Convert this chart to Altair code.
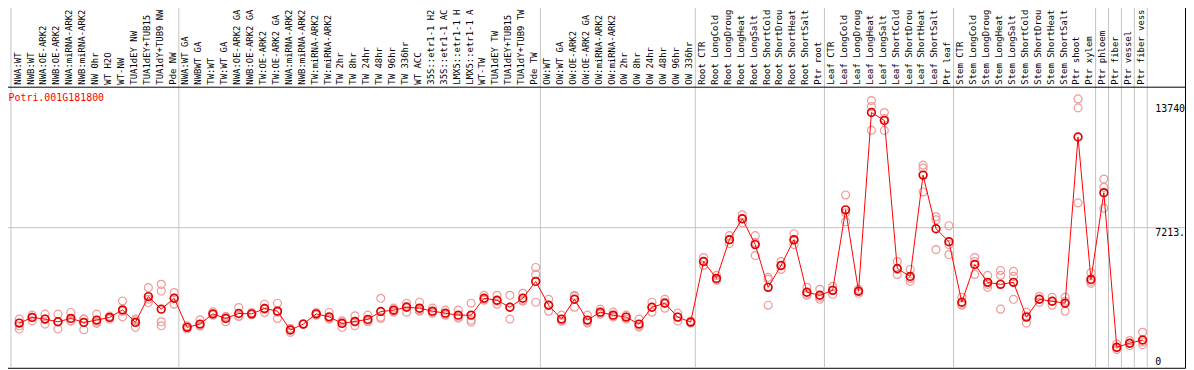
import altair as alt
import pandas as pd

gene = "Potri.001G181800"

categories = [
    "NWA:WT", "NWB:WT", "NWA:OE-ARK2", "NWB:OE-ARK2", "NWA:miRNA-ARK2", "NWB:miRNA-ARK2",
    "NW 0hr", "WT H2O", "WT-NW", "TUA1dEY NW", "TUA1dEY+TUB15", "TUA1dY+TUB9 NW", "Pde NW",
    "NWA:WT GA", "NWBWT GA", "TW:WT", "TW:WT GA", "NWA:OE-ARK2 GA", "NWB:OE-ARK2 GA",
    "TW:OE-ARK2", "TW:OE-ARK2 GA", "NWA:miRNA-ARK2", "NWB:miRNA-ARK2", "TW:miRNA-ARK2",
    "TW:miRNA-ARK2", "TW 2hr", "TW 8hr", "TW 24hr", "TW 48hr", "TW 96hr", "TW 336hr",
    "WT ACC", "35S::etr1-1 H2", "35S::etr1-1 AC", "LMX5::etr1-1 H", "LMX5::etr1-1 A",
    "WT-TW", "TUA1dEY TW", "TUA1dEY+TUB15", "TUA1dY+TUB9 TW", "Pde TW",
    "OW:WT", "OW:WT GA", "OW:OE-ARK2", "OW:OE-ARK2 GA", "OW:miRNA-ARK2", "OW:miRNA-ARK2",
    "OW 2hr", "OW 8hr", "OW 24hr", "OW 48hr", "OW 96hr", "OW 336hr",
    "Root CTR", "Root LongCold", "Root LongDroug", "Root LongHeat", "Root LongSalt",
    "Root ShortCold", "Root ShortDrou", "Root ShortHeat", "Root ShortSalt", "Ptr root",
    "Leaf CTR", "Leaf LongCold", "Leaf LongDroug", "Leaf LongHeat", "Leaf LongSalt",
    "Leaf ShortCold", "Leaf ShortDrou", "Leaf ShortHeat", "Leaf ShortSalt", "Ptr leaf",
    "Stem CTR", "Stem LongCold", "Stem LongDroug", "Stem LongHeat", "Stem LongSalt",
    "Stem ShortCold", "Stem ShortDrou", "Stem ShortHeat", "Stem ShortSalt", "Ptr shoot",
    "Ptr xylem", "Ptr phloem", "Ptr fiber", "Ptr vessel", "Ptr fiber vess",
]

means = [
    2194, 2492, 2403, 2262, 2440, 2231, 2351, 2492, 2889, 2231, 3589, 2926, 3500,
    1970, 2142, 2680, 2440, 2701, 2680, 2962, 2821, 1829, 2142, 2680, 2523, 2179,
    2283, 2388, 2805, 2873, 3030, 2978, 2821, 2717, 2612, 2612, 3500, 3396, 3030,
    3500, 4388,
    3135, 2403, 3448, 2351, 2769, 2612, 2508, 2142, 3030, 3239, 2508, 2246,
    5433, 4545, 6583, 7680, 6322, 4075, 5224, 6583, 3814, 3657,
    3918, 8150, 3866, 13270, 12852, 5068, 4650, 9979, 7157, 6478,
    3291, 5277, 4336, 4232, 4336, 2508, 3448, 3344, 3239, 11980,
    4493, 9054, 925, 1134, 1306,
]

replicates = [
    [2403, 2053, 1881], [2612, 2314, 2492], [2664, 2142, 2403], [2664, 1881, 2262],
    [2753, 2314, 2299], [2403, 1844, 2403], [2664, 2179, 2246], [2560, 2508, 2403],
    [3359, 2523, 2821], [1970, 2314, 2403], [4059, 3276, 3448], [4232, 3882, 2262, 2053],
    [3798, 3187, 3500],
    [2053, 1881, 1985], [2367, 2053, 2037], [2785, 2612, 2664], [2544, 2262, 2508],
    [3014, 2544, 2560], [2750, 2660, 2630], [3187, 2753, 2926], [3239, 2440, 2769],
    [1917, 1708, 1829], [2142, 2142, 2142], [2753, 2612, 2664], [2753, 2440, 2403],
    [2314, 1970, 2246], [2576, 2053, 2246], [2612, 2262, 2299], [3500, 2440, 2508],
    [2978, 2873, 2769], [3239, 2769, 3082], [3291, 2821, 2873], [2978, 2717, 2769],
    [2873, 2612, 2664], [2873, 2508, 2455], [3239, 2351, 2246], [3657, 3396, 3448],
    [3657, 3344, 3187], [3657, 2403, 3030], [3762, 3344, 3396], [5120, 4754, 3291],
    [3448, 2821, 3135], [2612, 2299, 2299], [3657, 3030, 3605], [2612, 2246, 2194],
    [2926, 2664, 2717], [2769, 2508, 2560], [2612, 2403, 2508], [2403, 1985, 2037],
    [3291, 2769, 3030], [3448, 2978, 3291], [2717, 2299, 2508], [2299, 2194, 2246],
    [5642, 5224, 5433], [4702, 4441, 4493], [6792, 6374, 6583], [7889, 7471, 7680],
    [6792, 5747, 6426], [4493, 3135, 4598], [5433, 5015, 5224], [6896, 6322, 6531],
    [4075, 3657, 3709], [3971, 3448, 3553],
    [4127, 3709, 3918], [8934, 7523, 7993], [3971, 3762, 3866], [13897, 13583, 12330],
    [13270, 12957, 12330], [5433, 4754, 5015], [5015, 4388, 4545], [10501, 10344, 9090],
    [7784, 6060, 7628], [7314, 5799, 6322],
    [3553, 3135, 3187], [5642, 5433, 4754], [4702, 4075, 4232], [4963, 4702, 2926],
    [4911, 4650, 3448], [2769, 2194, 2560], [3605, 3291, 3448], [3553, 3135, 3344],
    [3553, 2821, 3344], [13986, 13515, 8516],
    [4843, 4284, 4388], [9770, 9336, 8239], [1097, 799, 888], [1270, 1008, 1123],
    [1708, 1061, 1202],
]

# group separators: index of the category after which a vertical line is drawn
boundaries = [-1, 12, 40, 52, 62, 72, 83, 84, 85, 86, 87]
grid_values = [7213]
y_ticks = [7213, 13740]
y_tick_labels = ["7213.", "13740"]
y_zero = [0]
y_zero_labels = ["0"]

FONT = "DejaVu Sans Mono"
idx = list(range(len(categories)))
df_mean = pd.DataFrame({"idx": idx, "label": categories, "mean": means})
df_rep = pd.DataFrame(
    [{"idx": i, "value": v} for i, reps in enumerate(replicates) for v in reps]
)
df_bound = pd.DataFrame({"b": boundaries})
df_grid = pd.DataFrame({"v": grid_values})
df_yt = pd.DataFrame({"v": y_ticks, "t": y_tick_labels})
df_y0 = pd.DataFrame({"v": y_zero, "t": y_zero_labels})
df_one = pd.DataFrame({"t": [gene]})

xs = alt.Scale(domain=[-1.408, 90.285], nice=False, zero=False)
ys = alt.Scale(domain=[-156.7, 19121], nice=False, zero=False)

vgrid = (
    alt.Chart(df_bound)
    .transform_calculate(bx="datum.b + 0.36")
    .mark_rule(color="#c4c4c4", strokeWidth=1)
    .encode(x=alt.X("bx:Q", scale=xs, axis=None))
)
hgrid = (
    alt.Chart(df_grid)
    .mark_rule(color="#c4c4c4", strokeWidth=1)
    .encode(y=alt.Y("v:Q", scale=ys, axis=None))
)
hline = alt.Chart(df_one).mark_rule(color="black", strokeWidth=1).encode(y=alt.value(86.5))

reps = (
    alt.Chart(df_rep)
    .mark_point(shape="circle", filled=False, size=64, color="#f09a9a", strokeWidth=1.2, opacity=1)
    .encode(x=alt.X("idx:Q", scale=xs, axis=None), y=alt.Y("value:Q", scale=ys, axis=None))
)
line = (
    alt.Chart(df_mean)
    .mark_line(color="#ff0000", strokeWidth=1)
    .encode(x=alt.X("idx:Q", scale=xs, axis=None), y=alt.Y("mean:Q", scale=ys, axis=None))
)
mpts = (
    alt.Chart(df_mean)
    .mark_point(shape="circle", filled=False, size=60, color="#e00000", strokeWidth=1.7, opacity=1)
    .encode(x=alt.X("idx:Q", scale=xs, axis=None), y=alt.Y("mean:Q", scale=ys, axis=None))
)
xlabels = (
    alt.Chart(df_mean)
    .mark_text(angle=270, align="left", baseline="alphabetic", dy=1.4, font=FONT, fontSize=9, color="black")
    .encode(x=alt.X("idx:Q", scale=xs, axis=None), y=alt.value(84), text="label:N")
)
ylabels = (
    alt.Chart(df_yt)
    .mark_text(align="left", baseline="top", font=FONT, fontSize=10, color="black")
    .encode(x=alt.value(1162), y=alt.Y("v:Q", scale=ys, axis=None), text="t:N")
)
ylabel0 = (
    alt.Chart(df_y0)
    .mark_text(align="left", baseline="alphabetic", font=FONT, fontSize=10, color="black")
    .encode(x=alt.value(1162), y=alt.Y("v:Q", scale=ys, axis=None), text="t:N")
)
title = (
    alt.Chart(df_one)
    .mark_text(align="left", baseline="alphabetic", font=FONT, fontSize=10, color="#ff0000")
    .encode(x=alt.value(7.5), y=alt.value(100.7), text="t:N")
)

chart = (
    alt.layer(vgrid, hgrid, hline, reps, line, mpts, xlabels, ylabels, ylabel0, title)
    .properties(
        width=1192,
        height=369,
        padding={"left": -7, "top": -8, "right": 1, "bottom": 1},
        autosize=alt.AutoSizeParams(type="none"),
        background="white",
    )
    .configure_view(stroke="black", strokeWidth=1)
)

chart.save("out.html", embed_options={"renderer": "svg", "actions": False})
